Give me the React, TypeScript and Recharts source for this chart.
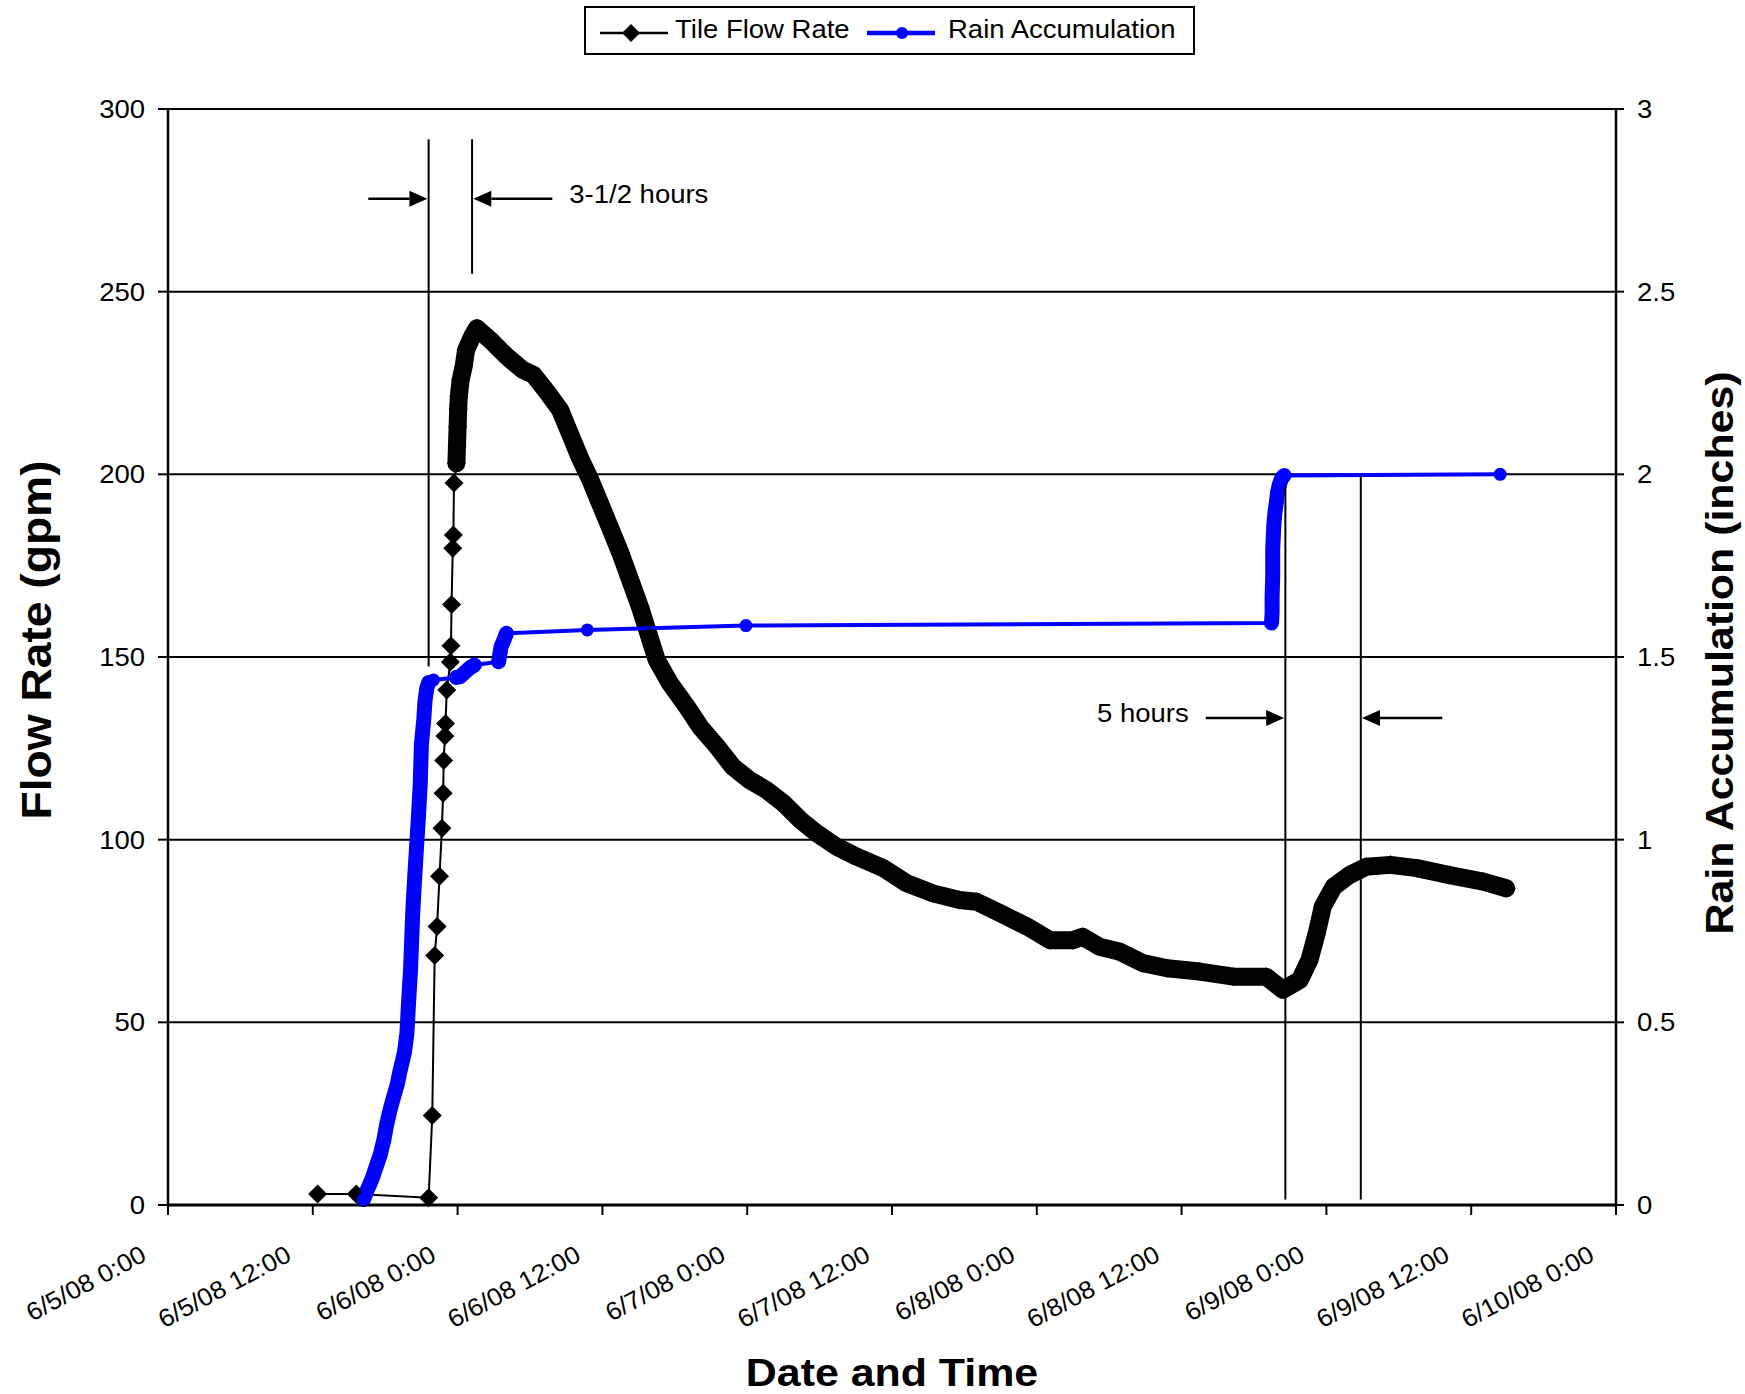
import React from 'react';
import { ComposedChart, Line, XAxis, YAxis, CartesianGrid, Legend, ReferenceLine } from 'recharts';

const W = 1745;
const H = 1394;
const PLOT = { left: 168, right: 1616, top: 109, bottom: 1205 };
const FONT = '"Liberation Sans", Arial, Helvetica, sans-serif';
const STRETCH = 1.1;

// ---- axes ----
const xTickValues = [0, 12, 24, 36, 48, 60, 72, 84, 96, 108, 120];
const xTickLabels = [
  '6/5/08 0:00', '6/5/08 12:00', '6/6/08 0:00', '6/6/08 12:00', '6/7/08 0:00', '6/7/08 12:00',
  '6/8/08 0:00', '6/8/08 12:00', '6/9/08 0:00', '6/9/08 12:00', '6/10/08 0:00',
];
const flowTicks = [0, 50, 100, 150, 200, 250, 300];
const rainTicks = [0, 0.5, 1, 1.5, 2, 2.5, 3];

// ---- Tile Flow Rate (hours since 6/5/08 0:00, gpm) ----
const flowHours = [
  12.4, 15.6, 21.6, 21.9, 22.1, 22.3, 22.5, 22.7, 22.8, 22.85,
  22.95, 23.0, 23.1, 23.4, 23.45, 23.5, 23.6, 23.65, 23.7, 23.9,
  23.95, 24.0, 24.05, 24.1, 24.25, 24.5, 24.7, 25.2, 25.6, 26.7,
  28.1, 29.4, 30.3, 31.4, 32.5, 33.3, 34.1, 35.0, 35.8, 36.6,
  37.5, 38.3, 39.1, 39.9, 40.5, 41.6, 43.0, 44.1, 45.5, 46.8,
  48.2, 49.6, 51.0, 52.4, 53.8, 55.4, 57.1, 59.3, 61.2, 63.4,
  65.6, 67.0, 69.0, 71.2, 73.1, 75.0, 75.8, 77.2, 78.9, 80.8,
  82.8, 85.5, 88.3, 91.0, 92.4, 93.8, 94.6, 95.2, 95.7, 96.6,
  97.9, 99.3, 101.3, 103.5, 106.2, 109.0, 110.9,
];
const flowValues = [
  3, 3, 2, 24.5, 68.3, 76.2, 90, 103.1, 112.7, 121.7,
  128.4, 131.8, 141, 148.6, 153.1, 164.4, 179.8, 183.4, 197.6, 203,
  208, 213, 218, 221.3, 225.8, 229.5, 234, 237.7, 240, 236.8,
  232.2, 228.6, 227.2, 222.6, 217.6, 211.2, 204.8, 198.5, 192.1, 185.7,
  178.4, 171.1, 163.8, 155.5, 149.2, 142.8, 136.4, 130.9, 125.5, 120,
  116.3, 113.6, 110, 105.4, 101.7, 98.1, 95.3, 92.2, 88.1, 85.3,
  83.5, 83, 79.8, 76.2, 72.5, 72.5, 73.4, 70.7, 69.3, 66.2,
  64.8, 63.9, 62.5, 62.5, 58.9, 61.6, 67.1, 74.4, 81.7, 87.1,
  90.3, 92.6, 93.1, 92.2, 90.3, 88.5, 86.7,
];
const flowDenseFrom = 23.9;

// ---- Rain Accumulation (hours, inches) ----
const rainHours = [
  16.2, 16.5, 16.9, 17.2, 17.6, 17.9, 18.1, 18.4, 18.7, 19.0,
  19.2, 19.4, 19.6, 19.8, 19.9, 20.0, 20.1, 20.2, 20.3, 20.45,
  20.6, 20.75, 20.9, 21.0, 21.2, 21.3, 21.45, 21.6, 22.0, 23.9,
  24.2, 24.5, 25.0, 25.4, 27.4, 27.6, 27.8, 28.05, 34.75, 47.9,
  91.45, 91.5, 91.5, 91.55, 91.55, 91.6, 91.65, 91.75, 91.85, 91.95,
  92.1, 92.3, 92.5, 110.4,
];
const rainValues = [
  0.015, 0.04, 0.071, 0.1, 0.139, 0.18, 0.217, 0.26, 0.296, 0.33,
  0.363, 0.39, 0.419, 0.47, 0.532, 0.59, 0.644, 0.73, 0.812, 0.9,
  0.981, 1.06, 1.149, 1.26, 1.33, 1.38, 1.415, 1.43, 1.437, 1.444,
  1.446, 1.455, 1.47, 1.478, 1.487, 1.528, 1.543, 1.565, 1.574, 1.586,
  1.593, 1.62, 1.665, 1.72, 1.794, 1.83, 1.865, 1.9, 1.922, 1.95,
  1.972, 1.99, 1.997, 2.0,
];
const rainDenseRanges: [number, number][] = [[16.2, 21.6], [23.9, 25.4], [27.4, 28.05], [91.45, 92.5]];

// ---- annotations (data coordinates: hours, gpm) ----
const markerLines = [
  { h: 21.6, from: 291.7, to: 147.4 },
  { h: 25.2, from: 291.7, to: 254.9 },
  { h: 92.6, from: 199.7, to: 1.5 },
  { h: 98.85, from: 199.7, to: 1.5 },
];
const arrows = [
  { from: 16.6, to: 21.5, at: 275.4, note: '' },
  { from: 31.85, to: 25.3, at: 275.4, note: '3-1/2 hours' },
  { from: 86.0, to: 92.5, at: 133.3, note: '5 hours' },
  { from: 105.6, to: 98.95, at: 133.3, note: '' },
];

const SERIES_FLOW = 'Tile Flow Rate';
const SERIES_RAIN = 'Rain Accumulation';

const flowRows = flowHours.map((h, i) => ({ h, flow: flowValues[i] }));
const flowBandRows = flowRows.filter((r) => r.h >= flowDenseFrom);
const rainRows = rainHours.map((h, i) => ({ h, rain: rainValues[i] }));
const rainBands = rainDenseRanges.map(([a, b]) => rainRows.filter((r) => r.h >= a && r.h <= b));

const Diamond = (props: any) => {
  const { cx, cy, index } = props;
  if (cx == null || cy == null) return <g key={`d${index}`} />;
  const s = 9.5;
  return (
    <path key={`d${index}`} d={`M${cx},${cy - s}L${cx + s},${cy}L${cx},${cy + s}L${cx - s},${cy}Z`} fill="#000" stroke="none" />
  );
};

const XTick = (props: any) => {
  const { x, y, payload } = props;
  const i = xTickValues.indexOf(payload.value);
  const label = i >= 0 ? xTickLabels[i] : '';
  return (
    <text transform={`translate(${x - 20},${y + 43}) rotate(-28) scale(1.05,1)`} textAnchor="end" fontSize={25} fontFamily={FONT} fill="#000">
      {label}
    </text>
  );
};

const YTick = (props: any) => {
  const { x, y, payload, textAnchor } = props;
  return (
    <text transform={`translate(${x},${y + 9}) scale(${STRETCH},1)`} textAnchor={textAnchor} fontSize={25} fontFamily={FONT} fill="#000">
      {String(payload.value)}
    </text>
  );
};

const ArrowShape = (props: any) => {
  const { x1, y1, x2, y2, note } = props;
  const dir = Math.sign(x2 - x1) || 1;
  const len = 18;
  const half = 8;
  const bx = x2 - dir * len;
  return (
    <g>
      <line x1={x1} y1={y1} x2={bx} y2={y2} stroke="#000" strokeWidth={2.5} />
      <path d={`M${x2},${y2}L${bx},${y2 - half}L${bx},${y2 + half}Z`} fill="#000" />
      {note ? (
        <text transform={`translate(${x1 - dir * 17},${y1 + 4}) scale(${STRETCH},1)`} textAnchor={dir < 0 ? 'start' : 'end'} fontSize={25} fontFamily={FONT} fill="#000">
          {note}
        </text>
      ) : null}
    </g>
  );
};

const LegendBox = (props: any) => {
  const items = (props.payload || []) as any[];
  const order = [SERIES_FLOW, SERIES_RAIN];
  const slots = [
    { lineX: 14, markX: 45, textX: 89 },
    { lineX: 281, markX: 316, textX: 362 },
  ];
  return (
    <div style={{ width: 611, height: 49, border: '2px solid #000', boxSizing: 'border-box', background: '#fff' }}>
      <svg width={607} height={45} style={{ display: 'block' }}>
        {order.map((name, i) => {
          const it = items.find((e) => e.value === name);
          if (!it) return null;
          const s = slots[i];
          const isFlow = name === SERIES_FLOW;
          const ly = 25;
          return (
            <g key={name}>
              <line x1={s.lineX} y1={ly} x2={s.lineX + 68} y2={ly} stroke={it.color} strokeWidth={isFlow ? 2.5 : 4.5} />
              {isFlow ? (
                <path d={`M${s.markX},${ly - 9}L${s.markX + 9},${ly}L${s.markX},${ly + 9}L${s.markX - 9},${ly}Z`} fill="#000" />
              ) : (
                <circle cx={s.markX} cy={ly} r={6} fill={it.color} />
              )}
              <text transform={`translate(${s.textX},30) scale(${STRETCH},1)`} fontSize={25} fontFamily={FONT} fill="#000">
                {name}
              </text>
            </g>
          );
        })}
      </svg>
    </div>
  );
};

const XTitle = () => (
  <text transform={`translate(${(PLOT.left + PLOT.right) / 2},1386) scale(${STRETCH},1)`} textAnchor="middle" fontSize={39} fontWeight="bold" fontFamily={FONT} fill="#000">
    Date and Time
  </text>
);
const LeftTitle = () => (
  <text transform={`translate(36,640) rotate(-90) scale(${STRETCH},1)`} textAnchor="middle" dominantBaseline="central" fontSize={42} fontWeight="bold" fontFamily={FONT} fill="#000">
    Flow Rate (gpm)
  </text>
);
const RightTitle = () => (
  <text transform={`translate(1720,653) rotate(-90) scale(${STRETCH},1)`} textAnchor="middle" dominantBaseline="central" fontSize={39} fontWeight="bold" fontFamily={FONT} fill="#000">
    Rain Accumulation (inches)
  </text>
);

export default function App() {
  return (
    <div style={{ position: 'absolute', left: 0, top: 0, background: '#fff' }}>
      <ComposedChart width={W} height={H} margin={{ top: PLOT.top, right: 0, bottom: 0, left: 0 }}>
        <CartesianGrid vertical={false} stroke="#000" strokeWidth={2} />
        <XAxis
          type="number"
          dataKey="h"
          domain={[0, 120]}
          ticks={xTickValues}
          interval={0}
          allowDataOverflow
          height={H - PLOT.bottom}
          tickSize={10}
          tickMargin={2}
          tick={<XTick />}
          axisLine={{ stroke: '#000', strokeWidth: 3 }}
          tickLine={{ stroke: '#000', strokeWidth: 2 }}
          label={{ content: () => <XTitle /> }}
        />
        <YAxis
          domain={[0, 300]}
          ticks={flowTicks}
          interval={0}
          width={PLOT.left}
          tickSize={10}
          tickMargin={13}
          tick={<YTick />}
          axisLine={{ stroke: '#000', strokeWidth: 2.5 }}
          tickLine={{ stroke: '#000', strokeWidth: 2 }}
          label={{ content: () => <LeftTitle /> }}
        />
        <YAxis
          yAxisId="rain"
          orientation="right"
          domain={[0, 3]}
          ticks={rainTicks}
          interval={0}
          width={W - PLOT.right}
          tickSize={8}
          tickMargin={13}
          tick={<YTick />}
          axisLine={{ stroke: '#000', strokeWidth: 2.5 }}
          tickLine={{ stroke: '#000', strokeWidth: 2 }}
          label={{ content: () => <RightTitle /> }}
        />
        <Legend
          verticalAlign="middle"
          align="center"
          layout="horizontal"
          wrapperStyle={{ left: 584, top: 6, width: 611, height: 49 }}
          content={<LegendBox />}
        />
        <Line
          data={flowBandRows}
          dataKey="flow"
          name="flowBand"
          legendType="none"
          stroke="#000"
          strokeWidth={18}
          strokeLinejoin="round"
          strokeLinecap="round"
          dot={false}
          activeDot={false}
          isAnimationActive={false}
        />
        <Line
          data={flowRows}
          dataKey="flow"
          name={SERIES_FLOW}
          stroke="#000"
          strokeWidth={2}
          dot={Diamond}
          activeDot={false}
          isAnimationActive={false}
        />
        {rainBands.map((band, i) => (
          <Line
            key={`rb${i}`}
            yAxisId="rain"
            data={band}
            dataKey="rain"
            name={`rainBand${i}`}
            legendType="none"
            stroke="#0000FF"
            strokeWidth={15}
            strokeLinejoin="round"
            strokeLinecap="round"
            dot={false}
            activeDot={false}
            isAnimationActive={false}
          />
        ))}
        <Line
          yAxisId="rain"
          data={rainRows}
          dataKey="rain"
          name={SERIES_RAIN}
          stroke="#0000FF"
          strokeWidth={4}
          dot={{ r: 6.5, fill: '#0000FF', stroke: '#0000FF', strokeWidth: 0 }}
          activeDot={false}
          isAnimationActive={false}
        />
        {markerLines.map((m, i) => (
          <ReferenceLine
            key={`m${i}`}
            segment={[{ x: m.h, y: m.from }, { x: m.h, y: m.to }]}
            stroke="#000"
            strokeWidth={2}
            ifOverflow="visible"
          />
        ))}
        {arrows.map((a, i) => (
          <ReferenceLine
            key={`a${i}`}
            segment={[{ x: a.from, y: a.at }, { x: a.to, y: a.at }]}
            ifOverflow="visible"
            shape={(p: any) => <ArrowShape {...p} note={a.note} />}
          />
        ))}
      </ComposedChart>
    </div>
  );
}
